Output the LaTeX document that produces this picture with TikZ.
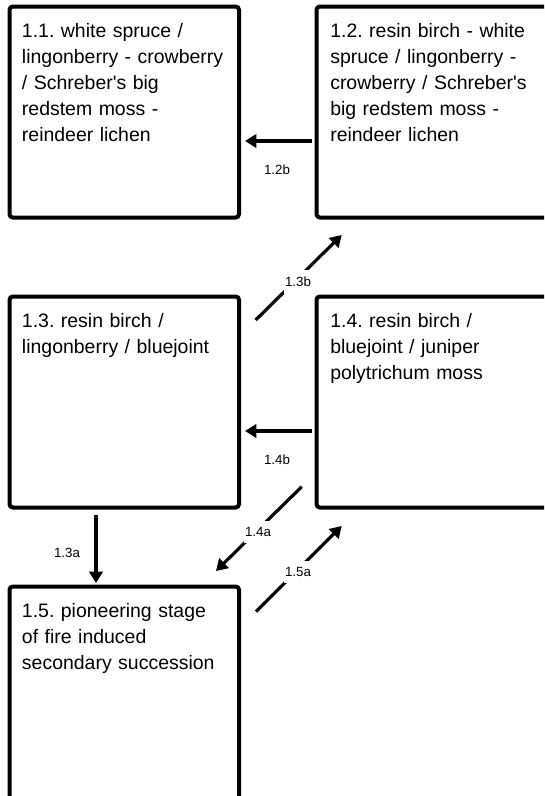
\documentclass[tikz,border=0pt]{standalone}
\usepackage{fontspec}
\newfontfamily\boxfont{Liberation Sans}
\usetikzlibrary{arrows.meta,fit}
\frenchspacing
\tikzset{
  stage/.style={draw=black, line width=3pt, rounded corners=2.5pt, inner sep=0pt, fill=white},
  stagetext/.style={anchor=base west, inner sep=0pt, text width=175pt, align=left,
    font=\boxfont\fontsize{14.6pt}{19.5pt}\selectfont},
  trans/.style={draw=black, line width=2.4pt, -{Triangle[length=8.5pt,width=10pt]}},
  translabel/.style={font=\boxfont\fontsize{10pt}{12pt}\selectfont, inner sep=0pt},
  gaplabel/.style={translabel, fill=white, inner xsep=1pt, inner ysep=5pt},
}
\begin{document}
\begin{tikzpicture}[x=0.75pt,y=-0.75pt]
\useasboundingbox (0,0) rectangle (544,796);
\clip (0,0) rectangle (544,796);
\fill[white] (0,0) rectangle (544,796);

% stage boxes (the right column and the last box run past the page edge)
\node[stage, fit={(9.5,6.5) (239,217.5)}] (b11) {};
\node[stage, fit={(316.5,6.5) (570,217.5)}] (b12) {};
\node[stage, fit={(9.5,296.5) (239,507.5)}] (b13) {};
\node[stage, fit={(316.5,296.5) (570,507.5)}] (b14) {};
\node[stage, fit={(9.5,586.5) (239,830)}] (b15) {};

% stage descriptions
\node[stagetext] (t11) at (21.7,37.3) {1.1. white spruce /\\lingonberry - crowberry\\/ Schreber's big\\redstem moss -\\reindeer lichen};
\node[stagetext] (t12) at (330,37.3) {1.2. resin birch - white\\spruce / lingonberry -\\crowberry / Schreber's\\big redstem moss -\\reindeer lichen};
\node[stagetext] (t13) at (21.7,327.3) {1.3. resin birch /\\lingonberry / bluejoint};
\node[stagetext] (t14) at (330,327.3) {1.4. resin birch /\\bluejoint / juniper\\polytrichum moss};
\node[stagetext] (t15) at (21.7,617.3) {1.5. pioneering stage\\of fire induced\\secondary succession};

% transition end points
\coordinate (a12s) at (312,141);   \coordinate (a12e) at (245,141);
\coordinate (a14s) at (312,431);   \coordinate (a14e) at (245,431);
\coordinate (a13as) at (96,515);   \coordinate (a13ae) at (96,583);
\coordinate (a13bs) at (255.7,320); \coordinate (a13be) at (341.7,235);
\coordinate (a14as) at (301.7,486.7); \coordinate (a14ae) at (216,571);
\coordinate (a15as) at (256,611.7); \coordinate (a15ae) at (341.7,526);

% transitions
\draw[trans] (a12s) -- (a12e);
\draw[trans] (a14s) -- (a14e);
\draw[trans] (a13as) -- (a13ae);
\draw[trans] (a13bs) -- (a13be);
\draw[trans] (a14as) -- (a14ae);
\draw[trans] (a15as) -- (a15ae);

% transition labels
\node[translabel] (l12b) at (277,170) {1.2b};
\node[translabel] (l14b) at (277,460) {1.4b};
\node[translabel] (l13a) at (67,553) {1.3a};
\node[gaplabel] (l13b) at (298,282) {1.3b};
\node[gaplabel] (l14a) at (258,532) {1.4a};
\node[gaplabel] (l15a) at (298,572) {1.5a};
\end{tikzpicture}
\end{document}
